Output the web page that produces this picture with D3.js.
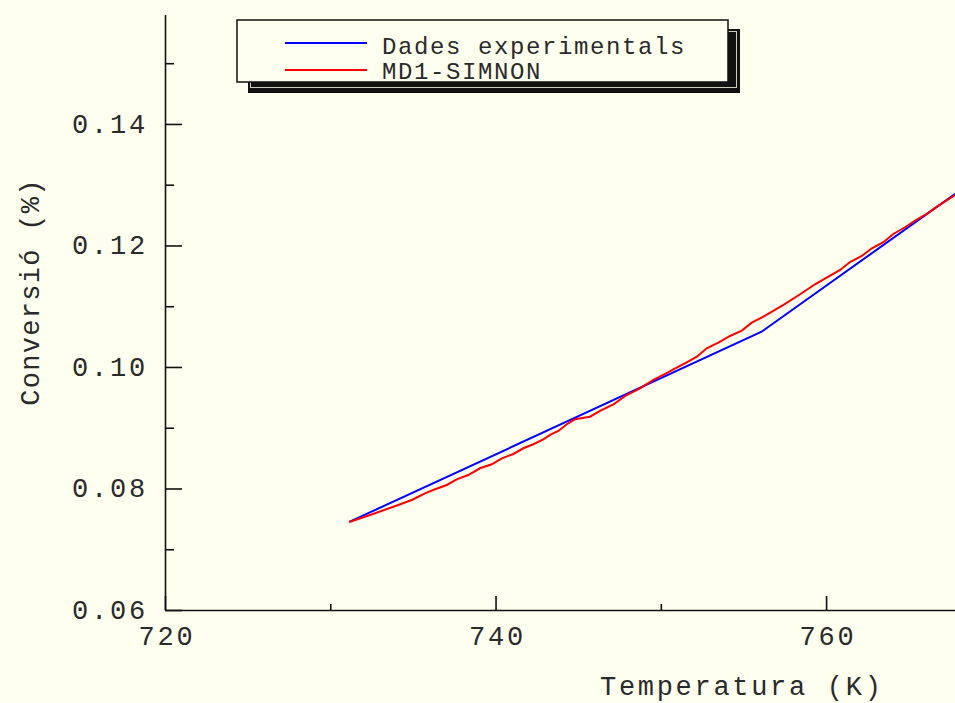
<!DOCTYPE html>
<html>
<head>
<meta charset="utf-8">
<script src="https://cdn.jsdelivr.net/npm/d3@7"></script>
<style>
  html, body { margin: 0; padding: 0; background: #FFFFF0; }
  svg { display: block; }
  text { font-family: "Liberation Mono", "DejaVu Sans Mono", monospace; fill: #2a2a2a; }
</style>
</head>
<body>
<svg id="chart" width="955" height="703"></svg>
<script>
// ---- data ----
const seriesNames = ["Dades experimentals", "MD1-SIMNON"];
const seriesColors = ["#0000FF", "#FF0000"];

const expT = [731.15, 756.1, 767.81];
const expC = [0.0745, 0.1058, 0.1285];

const simT = [731.15, 732.41, 733.82, 734.93, 735.73, 736.34, 737.05, 737.65, 738.35, 739.06,
              739.77, 740.38, 741.08, 741.68, 742.29, 742.89, 743.30, 743.80, 744.33, 744.81,
              745.72, 746.32, 747.13, 747.94, 748.74, 749.55, 750.26, 750.96, 751.57, 752.18,
              752.78, 753.48, 754.19, 754.90, 755.50, 756.21, 757.42, 758.43, 759.33, 760.14,
              760.85, 761.45, 762.16, 762.77, 763.47, 764.07, 764.78, 765.39, 766.09, 766.80, 767.81];
const simC = [0.07449, 0.07564, 0.07700, 0.07811, 0.07921, 0.07987, 0.08058, 0.08151, 0.08222, 0.08333,
              0.08398, 0.08497, 0.08568, 0.08662, 0.08728, 0.08810, 0.08881, 0.08947, 0.09062, 0.09139,
              0.09182, 0.09276, 0.09386, 0.09539, 0.09649, 0.09786, 0.09885, 0.09988, 0.10077, 0.10170,
              0.10308, 0.10400, 0.10510, 0.10598, 0.10729, 0.10828, 0.11021, 0.11197, 0.11361, 0.11487,
              0.11597, 0.11728, 0.11827, 0.11954, 0.12053, 0.12189, 0.12300, 0.12408, 0.12519, 0.12655, 0.12831];

const xMajorTicks = [720, 740, 760];
const xMinorTicks = [730, 750];
const yMajorTicks = [0.06, 0.08, 0.10, 0.12, 0.14];
const yMinorTicks = [0.07, 0.09, 0.11, 0.13, 0.15];
const xDomain = [720, 767.8];
const yDomain = [0.06, 0.158];
const xTitle = "Temperatura (K)";
const yTitle = "Conversió (%)";

// ---- layout ----
const svg = d3.select("#chart");
const X0 = 165, X1 = 955, Y0 = 610, Y1 = 14.6;
const x = d3.scaleLinear().domain(xDomain).range([X0, X1]);
const y = d3.scaleLinear().domain(yDomain).range([Y0, Y1]);

svg.append("rect").attr("width", 955).attr("height", 703).attr("fill", "#FFFFF0");

const clip = svg.append("defs").append("clipPath").attr("id", "plotclip");
clip.append("rect").attr("x", X0).attr("y", 0).attr("width", X1 - X0).attr("height", Y0);

// lines
const line = d3.line().x(d => x(d[0])).y(d => y(d[1]));
const expData = expT.map((t, i) => [t, expC[i]]);
const simData = simT.map((t, i) => [t, simC[i]]);
const plot = svg.append("g").attr("clip-path", "url(#plotclip)");
plot.append("path").datum(expData).attr("d", line)
  .attr("fill", "none").attr("stroke", seriesColors[0]).attr("stroke-width", 2);
plot.append("path").datum(simData).attr("d", line)
  .attr("fill", "none").attr("stroke", seriesColors[1]).attr("stroke-width", 2);

// axes
function styleAxis(g) {
  g.selectAll("path.domain").attr("stroke", "#111").attr("stroke-width", 1.6);
  g.selectAll(".tick line").attr("stroke", "#111").attr("stroke-width", 1.6);
}
const xAxisMajor = svg.append("g").attr("transform", `translate(0,${Y0})`)
  .call(d3.axisBottom(x).tickValues(xMajorTicks).tickSizeInner(-14).tickSizeOuter(0).tickPadding(22)
        .tickFormat(d3.format("d")));
styleAxis(xAxisMajor);
xAxisMajor.selectAll("text").attr("font-size", 27).attr("letter-spacing", 2.8)
  .attr("font-family", "Liberation Mono").attr("fill", "#2a2a2a").attr("dy", null).attr("y", 35)
  .attr("dx", 1.4);
const xAxisMinor = svg.append("g").attr("transform", `translate(0,${Y0})`)
  .call(d3.axisBottom(x).tickValues(xMinorTicks).tickSizeInner(-6).tickSizeOuter(0).tickFormat(""));
styleAxis(xAxisMinor);
xAxisMinor.select("path.domain").remove();

const yAxisMajor = svg.append("g").attr("transform", `translate(${X0},0)`)
  .call(d3.axisLeft(y).tickValues(yMajorTicks).tickSizeInner(-17).tickSizeOuter(0).tickPadding(20)
        .tickFormat(d3.format(".2f")));
styleAxis(yAxisMajor);
yAxisMajor.selectAll("text").attr("font-size", 27).attr("letter-spacing", 2.8)
  .attr("font-family", "Liberation Mono").attr("fill", "#2a2a2a").attr("dy", "0.3em")
  .attr("x", -17);
const yAxisMinor = svg.append("g").attr("transform", `translate(${X0},0)`)
  .call(d3.axisLeft(y).tickValues(yMinorTicks).tickSizeInner(-9).tickSizeOuter(0).tickFormat(""));
styleAxis(yAxisMinor);
yAxisMinor.select("path.domain").remove();

// axis titles
svg.append("text").attr("x", 600).attr("y", 695).attr("font-size", 27)
  .attr("letter-spacing", 2.7).text(xTitle);
svg.append("text").attr("transform", "translate(39,292) rotate(-90)")
  .attr("text-anchor", "middle").attr("font-size", 27).attr("letter-spacing", 1.3).text(yTitle);

// legend
const lg = svg.append("g");
lg.append("rect").attr("x", 248).attr("y", 29).attr("width", 492).attr("height", 64).attr("fill", "#111");
lg.append("rect").attr("x", 250.5).attr("y", 31.5).attr("width", 486).attr("height", 56)
  .attr("fill", "none").attr("stroke", "#cfcfc0").attr("stroke-width", 1);
lg.append("rect").attr("x", 237).attr("y", 20).attr("width", 491).attr("height", 62)
  .attr("fill", "#FFFFF0").attr("stroke", "#111").attr("stroke-width", 1.5);
const legY = [43, 70];
const legTextY = [54, 79];
seriesNames.forEach((name, i) => {
  lg.append("line").attr("x1", 285).attr("x2", 367).attr("y1", legY[i]).attr("y2", legY[i])
    .attr("stroke", seriesColors[i]).attr("stroke-width", 2);
  lg.append("text").attr("x", 382).attr("y", legTextY[i]).attr("font-size", 24)
    .attr("letter-spacing", 1.6).text(name);
});
</script>
</body>
</html>
